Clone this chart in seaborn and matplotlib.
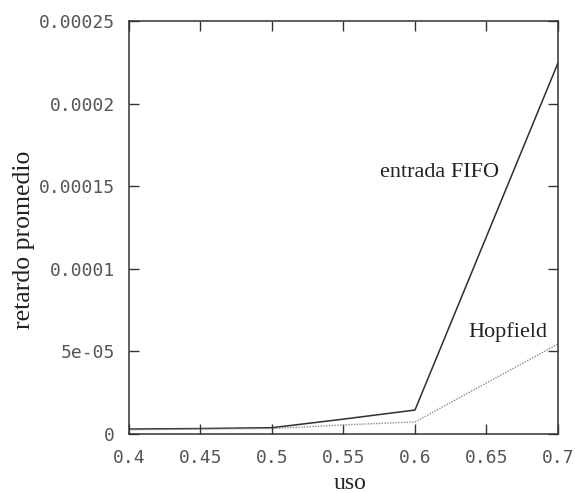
import matplotlib
matplotlib.use("Agg")
import matplotlib.pyplot as plt
import seaborn as sns
import pandas as pd

# data
uso = [0.4, 0.45, 0.5, 0.55, 0.6, 0.7]
fifo = [3.0e-6, 3.3e-6, 3.8e-6, 9.0e-6, 1.45e-5, 2.246e-4]
hopfield = [2.5e-6, 3.0e-6, 3.3e-6, 5.5e-6, 7.3e-6, 5.45e-5]
xticks = [0.4, 0.45, 0.5, 0.55, 0.6, 0.65, 0.7]
xtick_labels = ["0.4", "0.45", "0.5", "0.55", "0.6", "0.65", "0.7"]
yticks = [0, 5e-05, 0.0001, 0.00015, 0.0002, 0.00025]
ytick_labels = ["0", "5e-05", "0.0001", "0.00015", "0.0002", "0.00025"]

df_fifo = pd.DataFrame({"uso": uso, "retardo": fifo})
df_hop = pd.DataFrame({"uso": uso, "retardo": hopfield})

sns.set_theme(style="white")

fig = plt.figure(figsize=(5.75, 4.93), dpi=100)
ax = fig.add_axes([0.2243, 0.1197, 0.7461, 0.8377])

sns.lineplot(data=df_fifo, x="uso", y="retardo", ax=ax, color="#2e2e2e",
             linewidth=1.1, estimator=None)
sns.lineplot(data=df_hop, x="uso", y="retardo", ax=ax, color="#8a8a8a",
             linewidth=1.0, linestyle=(0, (1, 1)), estimator=None)

ax.set_xlim(0.4, 0.7)
ax.set_ylim(0, 0.00025)

mono = "DejaVu Sans Mono"
ax.set_xticks(xticks)
ax.set_xticklabels(xtick_labels, fontfamily=mono, fontsize=13, color="#555555")
ax.set_yticks(yticks)
ax.set_yticklabels(ytick_labels, fontfamily=mono, fontsize=13, color="#555555")

ax.tick_params(axis="both", which="both", direction="in", length=7, width=1.0,
               color="#333333", top=True, right=True, bottom=True, left=True)
ax.tick_params(axis="x", pad=11)
ax.tick_params(axis="y", pad=10)

for sp in ax.spines.values():
    sp.set_visible(True)
    sp.set_color("#333333")
    sp.set_linewidth(1.1)

serif = "Liberation Serif"
ax.set_xlabel("uso", fontfamily=serif, fontsize=17, color="#222222")
ax.set_ylabel("retardo promedio", fontfamily=serif, fontsize=18.5, color="#222222")
ax.xaxis.set_label_coords(0.515, -0.094)
ax.yaxis.set_label_coords(-0.218, 0.470)

ax.text(0.5755, 1.556e-4, "entrada FIFO", fontfamily=serif, fontsize=16,
        color="#222222", ha="left", va="baseline")
ax.text(0.637, 5.87e-5, "Hopfield", fontfamily=serif, fontsize=16,
        color="#222222", ha="left", va="baseline")

fig.savefig("out.png", dpi=100, facecolor="white")
